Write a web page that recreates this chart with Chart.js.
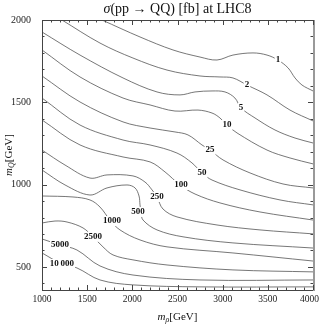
<!DOCTYPE html>
<html>
<head>
<meta charset="utf-8">
<script src="https://cdn.jsdelivr.net/npm/chart.js@4"></script>
<style>
html, body { margin: 0; padding: 0; background: #fff; }
</style>
</head>
<body>
<canvas id="xsec" width="320" height="325"></canvas>
<script>
// contour levels, sigma(pp -> QQ) in fb
var levels = [1, 2, 5, 10, 25, 50, 100, 250, 500, 1000, 2500, 5000, 10000];
var levelText = ['1', '2', '5', '10', '25', '50', '100', '250', '500', '1000', '2500', '5000', '10\u202F000'];

// contour lines: m_rho [GeV] -> m_Q [GeV]
var rho1 = [1664, 2085, 2450, 2749, 2937, 3114, 3336, 3491, 3612, 3724, 3801, 3878, 4000];
var q1 = [2000, 1897, 1818, 1775, 1757, 1787, 1800, 1787, 1757, 1709, 1648, 1605, 1569];
var rho2 = [1221, 1642, 2007, 2384, 2749, 2970, 3114, 3269, 3491, 3745, 4000];
var q2 = [2000, 1860, 1769, 1696, 1660, 1654, 1648, 1605, 1545, 1453, 1387];
var rho5 = [1000, 1421, 1897, 2273, 2528, 2694, 2882, 3026, 3136, 3203, 3358, 3579, 3801, 4000];
var q5 = [1927, 1787, 1648, 1563, 1545, 1563, 1569, 1563, 1526, 1466, 1405, 1332, 1283, 1253];
var rho10 = [1000, 1421, 1897, 2196, 2472, 2727, 2882, 2970, 3048, 3159, 3491, 3745, 4000];
var q10 = [1818, 1654, 1526, 1484, 1447, 1453, 1435, 1405, 1362, 1314, 1210, 1162, 1126];
var rho25 = [1000, 1421, 1897, 2196, 2472, 2616, 2771, 2860, 3004, 3303, 3668, 4000];
var q25 = [1660, 1502, 1381, 1344, 1320, 1302, 1241, 1210, 1150, 1071, 1004, 980];
var rho50 = [1000, 1421, 1897, 2196, 2494, 2660, 2771, 2882, 3192, 3635, 4000];
var q50 = [1526, 1362, 1271, 1241, 1192, 1132, 1071, 1028, 968, 907, 877];
var rho100 = [1000, 1421, 1897, 2196, 2362, 2528, 2694, 2970, 3413, 4000];
var q100 = [1393, 1241, 1168, 1138, 1077, 998, 943, 889, 834, 785];
var rho250 = [1000, 1255, 1531, 1720, 2007, 2140, 2218, 2273, 2339, 2494, 2937, 3413, 4000];
var q250 = [1210, 1119, 1040, 1059, 1053, 1016, 968, 925, 852, 804, 755, 725, 701];
var rho500 = [1000, 1255, 1531, 1720, 1941, 2030, 2074, 2085, 2096, 2118, 2273, 2561, 3114, 4000];
var q500 = [1089, 998, 937, 980, 998, 980, 931, 877, 834, 785, 725, 683, 646, 615];
var rho1000 = [1000, 1343, 1531, 1642, 1753, 1863, 2085, 2384, 3114, 4000];
var q1000 = [931, 925, 907, 864, 785, 725, 664, 622, 585, 536];
var rho2500 = [1000, 1144, 1277, 1454, 1565, 1675, 1786, 2007, 2384, 3114, 4000];
var q2500 = [767, 779, 773, 737, 683, 622, 573, 543, 512, 482, 470];
var rho5000 = [1000, 1199, 1387, 1642, 2007, 2749, 4000];
var q5000 = [670, 634, 603, 506, 451, 421, 421];
var rho10000 = [1000, 1221, 1387, 1642, 2007, 2749, 4000];
var q10000 = [585, 518, 494, 421, 391, 379, 379];

// where the contour labels sit
var labelRho = [3612, 3269, 3203, 3048, 2860, 2771, 2539, 2273, 2063, 1775, 1565, 1199, 1221];
var labelQ = [1757, 1605, 1466, 1362, 1210, 1071, 998, 925, 834, 779, 683, 634, 518];

var xTicks = [1000, 1500, 2000, 2500, 3000, 3500, 4000];
var yTicks = [500, 1000, 1500, 2000];

var rhoLines = [rho1, rho2, rho5, rho10, rho25, rho50, rho100, rho250, rho500, rho1000, rho2500, rho5000, rho10000];
var qLines = [q1, q2, q5, q10, q25, q50, q100, q250, q500, q1000, q2500, q5000, q10000];

var serif = '"Liberation Serif", "DejaVu Serif", serif';

var datasets = levels.map(function(lv, i) {
  return {
    label: levelText[i],
    data: rhoLines[i].map(function(x, j) { return { x: x, y: qLines[i][j] }; }),
    borderColor: '#4a4a4a',
    borderWidth: 0.75,
    pointRadius: 0,
    tension: 0.35,
    fill: false
  };
});

// draws the mixed-style text pieces one after another
function drawPieces(ctx, pieces, cx, cy) {
  var total = 0;
  pieces.forEach(function(p) {
    ctx.font = p.font;
    total += ctx.measureText(p.t).width;
  });
  var x = cx - total / 2;
  ctx.textBaseline = 'middle';
  ctx.textAlign = 'left';
  pieces.forEach(function(p) {
    ctx.font = p.font;
    ctx.fillText(p.t, x, cy + (p.dy || 0));
    x += ctx.measureText(p.t).width;
  });
}

var framePlugin = {
  id: 'frame',
  afterDatasetsDraw: function(chart) {
    var ctx = chart.ctx;
    var a = chart.chartArea;
    var sx = chart.scales.x, sy = chart.scales.y;
    ctx.save();

    // contour labels with a white box behind
    ctx.font = 'bold 9px ' + serif;
    ctx.textAlign = 'center';
    ctx.textBaseline = 'middle';
    levels.forEach(function(lv, i) {
      var px = sx.getPixelForValue(labelRho[i]);
      var py = sy.getPixelForValue(labelQ[i]);
      var w = ctx.measureText(levelText[i]).width;
      ctx.fillStyle = '#fff';
      ctx.fillRect(px - w / 2 - 1, py - 5, w + 2, 10);
      ctx.fillStyle = '#111';
      ctx.fillText(levelText[i], px, py);
    });

    // frame
    ctx.strokeStyle = '#444';
    ctx.lineWidth = 1;
    ctx.strokeRect(Math.round(a.left) + 0.5, Math.round(a.top) + 0.5,
      Math.round(a.right - a.left), Math.round(a.bottom - a.top));
    ctx.strokeStyle = '#999';
    ctx.lineWidth = 2;
    ctx.beginPath();
    ctx.moveTo(Math.round(a.right) + 1, a.top);
    ctx.lineTo(Math.round(a.right) + 1, a.bottom + 1);
    ctx.stroke();

    // inward ticks, major every 500, minor every 100
    ctx.strokeStyle = '#444';
    ctx.lineWidth = 1;
    ctx.beginPath();
    for (var v = 1000; v <= 4000; v += 100) {
      var len = v % 500 === 0 ? 5 : 2.5;
      var px2 = Math.round(sx.getPixelForValue(v)) + 0.5;
      ctx.moveTo(px2, a.bottom); ctx.lineTo(px2, a.bottom - len);
      ctx.moveTo(px2, a.top); ctx.lineTo(px2, a.top + len);
    }
    for (var u = 400; u <= 2000; u += 100) {
      var len2 = u % 500 === 0 ? 5 : 2.5;
      var py2 = Math.round(sy.getPixelForValue(u)) + 0.5;
      ctx.moveTo(a.left, py2); ctx.lineTo(a.left + len2, py2);
      ctx.moveTo(a.right, py2); ctx.lineTo(a.right - len2, py2);
    }
    ctx.stroke();

    // x tick labels, the last one kept inside the canvas
    ctx.fillStyle = '#222';
    ctx.font = '9.5px ' + serif;
    ctx.textAlign = 'center';
    ctx.textBaseline = 'middle';
    xTicks.forEach(function(t) {
      var s = String(t);
      var w = ctx.measureText(s).width;
      var px = Math.min(sx.getPixelForValue(t), chart.width - 1 - w / 2);
      ctx.fillText(s, px, a.bottom + 9);
    });

    // titles
    ctx.fillStyle = '#111';
    var cx = (a.left + a.right) / 2;
    drawPieces(ctx, [
      { t: '\u03C3', font: 'italic 14px ' + serif },
      { t: '(pp \u2192 QQ) [fb] at LHC8', font: '14px ' + serif }
    ], cx, 9);
    drawPieces(ctx, [
      { t: 'm', font: 'italic 11px ' + serif },
      { t: '\u03C1', font: 'italic 8px ' + serif, dy: 3 },
      { t: '[GeV]', font: '11px ' + serif }
    ], cx, 317);
    ctx.translate(9, (a.top + a.bottom) / 2);
    ctx.rotate(-Math.PI / 2);
    drawPieces(ctx, [
      { t: 'm', font: 'italic 11px ' + serif },
      { t: 'Q', font: 'italic 8px ' + serif, dy: 3 },
      { t: '[GeV]', font: '11px ' + serif }
    ], 0, 0);
    ctx.restore();
  }
};

function plainTick(v) { return String(v); }

new Chart(document.getElementById('xsec').getContext('2d'), {
  type: 'line',
  data: { datasets: datasets },
  options: {
    responsive: false,
    animation: false,
    layout: { padding: { top: 20, right: 7, left: 0, bottom: 0 } },
    plugins: {
      legend: { display: false },
      tooltip: { enabled: false },
      title: { display: false }
    },
    scales: {
      x: {
        type: 'linear',
        min: 1000,
        max: 4000,
        afterBuildTicks: function(s) { s.ticks = xTicks.map(function(v) { return { value: v }; }); },
        afterFit: function(s) { s.height = 35; },
        grid: { display: false },
        border: { display: false },
        ticks: { display: false }
      },
      y: {
        type: 'linear',
        min: 360,
        max: 2000,
        afterBuildTicks: function(s) { s.ticks = yTicks.map(function(v) { return { value: v }; }); },
        afterFit: function(s) { s.width = 42; },
        grid: { display: false },
        border: { display: false },
        ticks: { font: { family: serif, size: 10 }, color: '#222', padding: 3, autoSkip: false, callback: plainTick }
      }
    }
  },
  plugins: [framePlugin]
});
</script>
</body>
</html>
